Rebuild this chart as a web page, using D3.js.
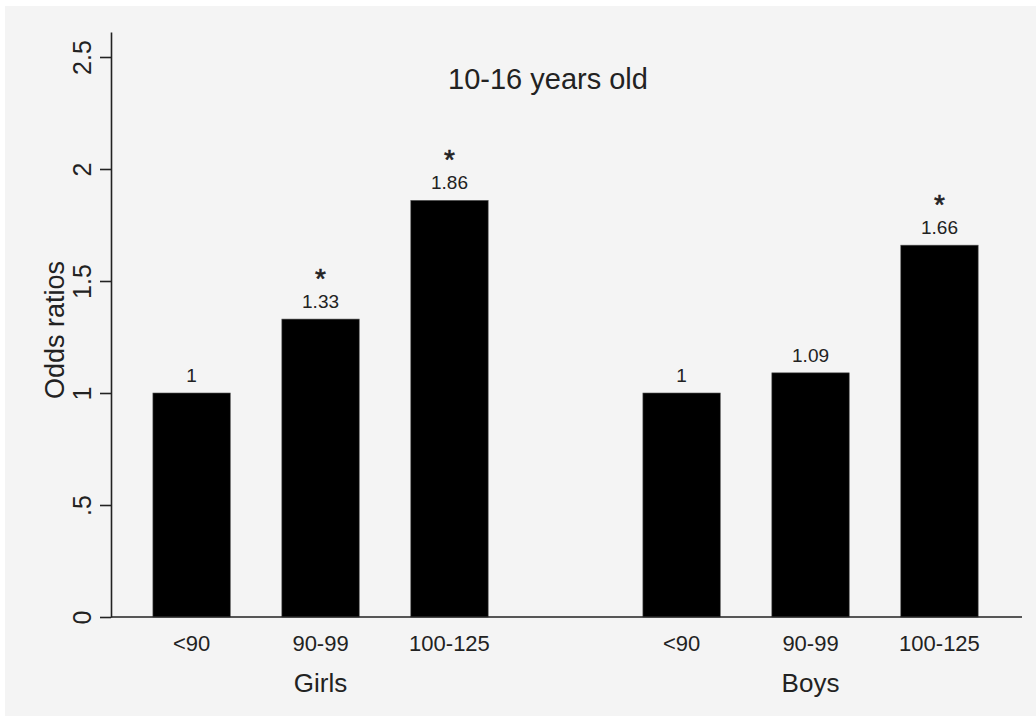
<!DOCTYPE html>
<html>
<head>
<meta charset="utf-8">
<script src="https://cdn.jsdelivr.net/npm/d3@7"></script>
<style>
  body { margin: 0; background: #fff; }
  text { font-family: "Liberation Sans", Arial, sans-serif; fill: #222; }
</style>
</head>
<body>
<script>
// values
const groups = ["Girls", "Boys"];
const categories = ["<90", "90-99", "100-125"];
const girlsOR = [1, 1.33, 1.86];
const boysOR = [1, 1.09, 1.66];
const girlsSig = [false, true, true];
const boysSig = [false, false, true];
const yTicks = [0, 0.5, 1, 1.5, 2, 2.5];
const yTickLabels = ["0", ".5", "1", "1.5", "2", "2.5"];
const chartTitle = "10-16 years old";
const yTitle = "Odds ratios";

const width = 1036, height = 720;
const svg = d3.select("body").append("svg")
    .attr("width", width)
    .attr("height", height);

svg.append("rect")
    .attr("x", 5).attr("y", 6)
    .attr("width", width - 5).attr("height", height - 10)
    .attr("fill", "#f4f4f4");

const x0 = 111, x1 = 1022, yBase = 617, yTop = 32;

// slot positions: groups separated by a wider gap
const groupOffset = [0, 3.8];
const x = d3.scaleLinear().domain([-0.625, 6.44]).range([x0, x1]);
const y = d3.scaleLinear().domain([0, 2.5 * (yBase - yTop) / 560]).range([yBase, yTop]);
const barW = x(0.6) - x(0);

const rows = [];
groups.forEach((g, gi) => {
    const vals = gi === 0 ? girlsOR : boysOR;
    const sig = gi === 0 ? girlsSig : boysSig;
    categories.forEach((c, ci) => {
        rows.push({ group: g, gi, cat: c, slot: groupOffset[gi] + ci, value: vals[ci], sig: sig[ci] });
    });
});

// bars
svg.append("g").selectAll("rect")
    .data(rows)
    .enter().append("rect")
    .attr("x", d => x(d.slot) - barW / 2)
    .attr("y", d => y(d.value))
    .attr("width", barW)
    .attr("height", d => y(0) - y(d.value))
    .attr("fill", "#000")
    .attr("stroke", "#555")
    .attr("stroke-width", 0.6);

// value labels
svg.append("g").selectAll("text")
    .data(rows)
    .enter().append("text")
    .attr("x", d => x(d.slot))
    .attr("y", d => y(d.value) - 11)
    .attr("text-anchor", "middle")
    .style("font-size", "19px")
    .text(d => d3.format("")(d.value));

// significance stars
svg.append("g").selectAll("text")
    .data(rows.filter(d => d.sig))
    .enter().append("text")
    .attr("x", d => x(d.slot))
    .attr("y", d => y(d.value) - 11 - 20)
    .attr("text-anchor", "middle")
    .style("font-size", "28px")
    .attr("stroke", "#222")
    .attr("stroke-width", 0.6)
    .text("*");

// y axis
const yAxis = d3.axisLeft(y)
    .tickValues(yTicks)
    .tickSize(11)
    .tickSizeOuter(0)
    .tickFormat((d, i) => yTickLabels[i]);
const ya = svg.append("g")
    .attr("transform", `translate(${x0},0)`)
    .call(yAxis);
ya.select(".domain").attr("stroke", "#222").attr("stroke-width", 1.6);
ya.selectAll(".tick line").attr("stroke", "#222").attr("stroke-width", 1.6);
ya.selectAll(".tick text")
    .attr("x", 0).attr("y", 0).attr("dy", null)
    .attr("text-anchor", "middle")
    .attr("transform", "translate(-20,0) rotate(-90)")
    .style("font-size", "25px")
    .style("font-family", "Liberation Sans, Arial, sans-serif")
    .attr("fill", "#222");

// x baseline
svg.append("line")
    .attr("x1", x0).attr("x2", x1)
    .attr("y1", y(0)).attr("y2", y(0))
    .attr("stroke", "#222").attr("stroke-width", 1.6);

// category labels
svg.append("g").selectAll("text")
    .data(rows)
    .enter().append("text")
    .attr("x", d => x(d.slot))
    .attr("y", 651)
    .attr("text-anchor", "middle")
    .style("font-size", "22px")
    .text(d => d.cat);

// group labels
svg.append("g").selectAll("text")
    .data(groups)
    .enter().append("text")
    .attr("x", (d, i) => x(groupOffset[i] + 1))
    .attr("y", 692)
    .attr("text-anchor", "middle")
    .style("font-size", "26px")
    .text(d => d);

// title
svg.append("text")
    .attr("x", 548).attr("y", 89)
    .attr("text-anchor", "middle")
    .style("font-size", "29px")
    .text(chartTitle);

// y title
svg.append("text")
    .attr("transform", "translate(64,330) rotate(-90)")
    .attr("text-anchor", "middle")
    .style("font-size", "27px")
    .text(yTitle);
</script>
</body>
</html>
